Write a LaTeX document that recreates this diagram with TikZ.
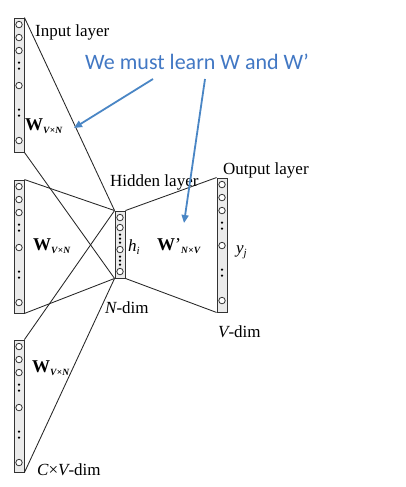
\documentclass[tikz,border=0pt]{standalone}
\usepackage{fontspec}
\setmainfont{Liberation Serif}
\newfontfamily\calib{Carlito}
\usetikzlibrary{arrows.meta,calc}
\definecolor{noteblue}{RGB}{66,120,196}
\definecolor{arrowblue}{RGB}{74,134,197}
\tikzset{
  layercol/.style={rectangle, draw=black!80, fill=black!8, line width=0.9pt, minimum width=10pt, inner sep=0pt},
  unit/.style={circle, draw=black!80, fill=white, line width=0.8pt, minimum size=6.5pt, inner sep=0pt},
  dotunit/.style={circle, fill=black, minimum size=2.5pt, inner sep=0pt},
  link/.style={draw=black!85, line width=0.85pt},
  lab/.style={anchor=base west, inner sep=0pt, font=\fontsize{17}{17}\selectfont},
  wlab/.style={anchor=base west, inner sep=0pt, font=\fontsize{18}{18}\selectfont},
  learn/.style={-{Triangle[length=8pt,width=7pt]}, draw=arrowblue, line width=1.8pt},
}
\newcommand{\wsub}[1]{\raisebox{-3pt}{\fontsize{9.5}{9.5}\selectfont\itshape #1}}
\newcommand{\hsub}[1]{\raisebox{-3.5pt}{\fontsize{11}{11}\selectfont\itshape #1}}
\begin{document}
\begin{tikzpicture}[x=1pt,y=-1pt]
\useasboundingbox[fill=white] (0,0) rectangle (405,487);

% layer columns
\node[layercol, minimum height=134pt] (in1) at (19,85) {};
\node[layercol, minimum height=133pt] (in2) at (19,246.5) {};
\node[layercol, minimum height=132pt] (in3) at (19,406) {};
\node[layercol, minimum height=67pt] (hid) at (120,244.5) {};
\node[layercol, minimum height=134pt] (out) at (222,245) {};

% connectors
\draw[link] (in1.north east) -- (hid.north west);
\draw[link] (in1.south east) -- (hid.south west);
\draw[link] (in2.north east) -- (hid.north west);
\draw[link] (in2.south east) -- (hid.south west);
\draw[link] (in3.north east) -- (hid.north west);
\draw[link] (in3.south east) -- (hid.south west);
\draw[link] (hid.north east) -- (out.north west);
\draw[link] (hid.south east) -- (out.south west);

% units in the tall columns
\foreach \c in {in1,in2,in3,out}{
  \foreach \o in {7,20,33,68,123}
    \node[unit] (\c-u\o) at ($(\c.north)+(0,\o)$) {};
  \foreach \o in {45,51,92,98}
    \node[dotunit] (\c-d\o) at ($(\c.north)+(0,\o)$) {};
}
% units in the hidden column
\foreach \o in {7,17,39,61}
  \node[unit] (hid-u\o) at ($(hid.north)+(0,\o)$) {};
\foreach \o in {24,28,32,46,50,54}
  \node[dotunit] (hid-d\o) at ($(hid.north)+(0,\o)$) {};

% labels
\node[lab] (tin) at (35,37) {Input layer};
\node[lab] (thid) at (110,186) {Hidden layer};
\node[lab] (tout) at (223,174) {Output layer};
\node[lab] (tn) at (105,313) {\itshape N\upshape-dim};
\node[lab] (tv) at (218,337) {\itshape V\upshape-dim};
\node[lab] (tc) at (37,475) {\itshape C\upshape×\itshape V\upshape-dim};
\node[wlab] (w1) at (25,130) {\bfseries W\wsub{V\kern0.3pt\upshape×\itshape N}};
\node[wlab] (w2) at (33,250) {\bfseries W\wsub{V\kern0.3pt\upshape×\itshape N}};
\node[wlab] (w3) at (32,372) {\bfseries W\wsub{V\kern0.3pt\upshape×\itshape N}};
\node[wlab] (w4) at (157,250) {\bfseries W\raisebox{0pt}{\mdseries'}\wsub{N\kern0.3pt\upshape×\itshape V}};
\node[lab] (th) at (128,251) {\itshape h\hsub{i}};
\node[lab] (ty) at (236,253) {\itshape y\hsub{j}};

% note and arrows
\node[anchor=base west, inner sep=0pt, text=noteblue, font=\calib\fontsize{22}{22}\selectfont] (note) at (85,70) {We must learn W and W’};
\coordinate (a1s) at (153,79);
\coordinate (a1e) at (74,128);
\coordinate (a2s) at (205,79);
\coordinate (a2e) at (184,223);
\draw[learn] (a1s) -- (a1e);
\draw[learn] (a2s) -- (a2e);
\end{tikzpicture}
\end{document}
